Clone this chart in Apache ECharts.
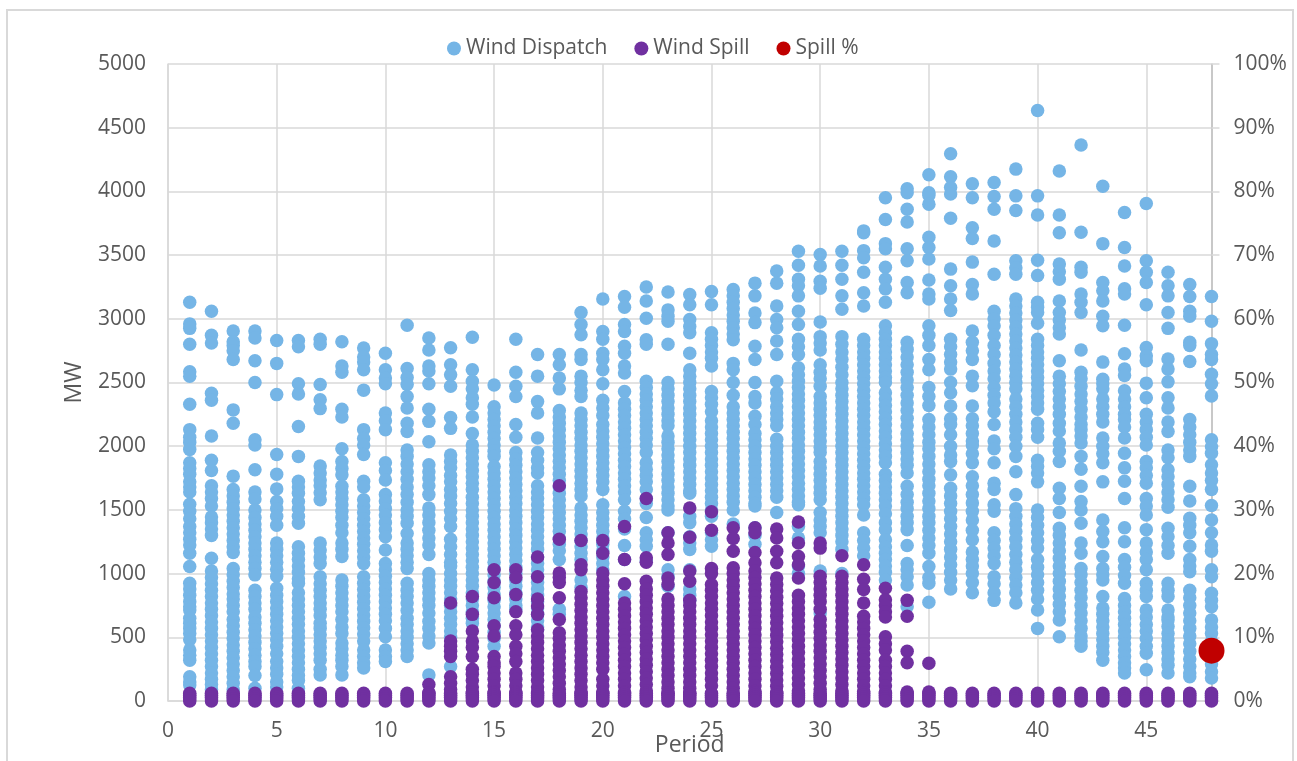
<!DOCTYPE html>
<html><head><meta charset="utf-8">
<script src="https://cdn.jsdelivr.net/npm/echarts@6/dist/echarts.min.js"></script>
<style>html,body{margin:0;padding:0;background:#fff;overflow:hidden}
#frame{position:absolute;left:6px;top:9px;width:1284px;height:800px;border:2px solid #d9d9d9}
#c{position:absolute;left:0;top:0;width:1297px;height:761px}</style></head>
<body><div id="frame"></div><div id="c"></div>
<script>
const d1=[3130,2960,2925,2800,2585,2550,2330,2130,2070,2030,1975,1870,1825,1780,1720,1680,1640,1545,1490,1430,1370,1320,1270,1225,1160,1055,925,880,830,780,740,715,650,610,570,530,480,400,360,320,190,150,125];
const d2=[3060,2870,2810,2415,2360,2080,1890,1810,1690,1640,1590,1530,1445,1400,1350,1300,1120,1020,970,920,870,820,770,720,670,620,570,520,470,420,370,320,270,220,170,130,90];
const d3=[2905,2820,2790,2750,2680,2285,2180,1765,1660,1610,1560,1510,1460,1410,1360,1310,1260,1210,1165,1040,990,940,890,840,800,750,700,640,590,540,490,440,390,340,290,240,190,140,90];
const d4=[2905,2850,2670,2500,2050,2010,1815,1640,1585,1500,1440,1390,1340,1290,1240,1190,1140,1090,1040,990,870,820,770,720,660,610,560,510,460,410,360,310,270,200,100];
const d5=[2830,2650,2405,1935,1780,1665,1565,1510,1450,1380,1240,1190,1140,1090,1035,980,885,830,780,730,680,630,580,530,480,430,370,310,260,210,150,110];
const d6=[2830,2780,2490,2410,2155,1920,1725,1680,1630,1565,1510,1450,1395,1210,1160,1110,1060,1010,960,925,850,800,750,700,650,600,550,500,450,400,350,300,250,200,160,100];
const d7=[2840,2800,2485,2365,2295,1845,1790,1735,1690,1635,1580,1240,1185,1130,1080,975,920,870,820,770,720,670,610,570,520,470,420,370,320,250,205];
const d8=[2820,2630,2580,2290,2230,1980,1880,1825,1775,1685,1640,1590,1540,1490,1440,1380,1320,1240,1190,1135,950,900,850,800,750,700,640,580,530,455,410,360,320,270,205];
const d9=[2770,2700,2660,2600,2440,2130,2060,2010,1935,1725,1680,1580,1530,1480,1430,1380,1330,1280,1230,1180,1130,1080,975,925,875,825,775,725,675,625,575,525,470,400,350,300,260];
const d10=[2730,2600,2535,2490,2260,2200,2130,1870,1810,1735,1620,1570,1510,1460,1400,1345,1290,1185,1080,1030,980,930,880,830,780,730,680,630,570,505,400,350,310];
const d11=[2950,2610,2540,2485,2390,2300,2180,2115,1970,1920,1860,1800,1740,1680,1620,1560,1500,1450,1395,1315,1240,1190,1140,1090,1040,925,870,820,770,710,650,600,550,500,450,400,350];
const d12=[2850,2755,2630,2590,2490,2290,2195,2035,1855,1800,1750,1690,1620,1515,1460,1400,1340,1280,1225,1150,1000,950,900,850,800,750,690,625,570,510,455,205];
const d13=[2772,2640,2560,2470,2225,2140,1930,1880,1830,1770,1720,1660,1610,1550,1490,1430,1370,1270,1210,1150,1090,1060,1000,950,900,850,800,750,700,650,600,550,500,270];
const d14=[2855,2600,2510,2450,2380,2330,2230,2100,2010,1960,1910,1860,1810,1760,1710,1660,1600,1550,1500,1450,1400,1350,1300,1250,1200,1150,1100,1050,1000,950,900,850,800,750,700,650,610];
const d15=[2480,2310,2260,2210,2160,2110,2060,2010,1960,1920,1840,1790,1740,1690,1640,1590,1540,1490,1440,1390,1340,1290,1240,1190,1140,1090,1040,990,940,890,840,790,740,690,640,590,540,490,430];
const d16=[2840,2580,2470,2390,2170,2070,1950,1900,1850,1800,1750,1700,1650,1600,1550,1500,1450,1400,1350,1300,1250,1200,1150,1100,1050,1000,950,900,850,800,750,720];
const d17=[2720,2550,2350,2260,2065,1950,1890,1830,1790,1690,1640,1590,1540,1490,1440,1390,1340,1290,1240,1190,1130,1080,1030,980,930,880,830,780,730,680,630,580,560];
const d18=[2720,2640,2535,2450,2280,2230,2180,2130,2080,2030,1980,1930,1880,1830,1780,1730,1680,1630,1580,1530,1480,1430,1380,1330,1280,1230,1180,1110,720,680];
const d19=[3050,2955,2875,2720,2680,2550,2500,2440,2390,2260,2210,2160,2110,2060,2010,1960,1910,1860,1810,1760,1710,1660,1610,1515,1460,1410,1360,1310,1260,1210,1160,1110,950,890];
const d20=[3155,2900,2840,2730,2680,2600,2490,2360,2300,2240,2170,2120,2070,2020,1970,1920,1870,1820,1770,1720,1660,1540,1480,1430,1380,1330,1280,1230,1180,1130,1080,1030];
const d21=[3175,3090,2955,2900,2785,2730,2630,2575,2430,2340,2290,2240,2190,2140,2090,2040,1990,1940,1890,1840,1790,1740,1690,1640,1580,1490,1430,1350,1220,1110,820];
const d22=[3250,3140,3005,2835,2800,2510,2460,2410,2360,2310,2260,2210,2160,2110,2060,2010,1950,1870,1820,1770,1720,1660,1590,1550,1440,1320,1265,1215,1100];
const d23=[3210,3070,3020,2980,2800,2500,2450,2400,2350,2300,2250,2200,2160,2080,2030,1980,1930,1880,1830,1780,1730,1680,1630,1580,1530,1500,1320,1030,980,900];
const d24=[3190,3110,2995,2940,2890,2730,2600,2550,2500,2450,2400,2350,2300,2250,2200,2150,2100,2050,2000,1950,1900,1850,1800,1750,1700,1650,1630,1450,1400,1290,1240,1190,1030,880,830,790];
const d25=[3215,3110,2890,2840,2790,2740,2690,2630,2430,2380,2330,2270,2200,2150,2100,2050,2000,1950,1900,1850,1800,1750,1700,1650,1600,1550,1500,1450,1320,1265,1215];
const d26=[3230,3180,3130,3080,3030,2980,2930,2880,2835,2650,2600,2500,2400,2310,2260,2210,2160,2110,2060,2010,1960,1910,1860,1810,1760,1710,1660,1610,1560,1500,1390];
const d27=[3280,3180,3045,2970,2785,2680,2500,2390,2340,2235,2170,2100,2050,2000,1950,1900,1850,1800,1750,1700,1650,1600,1550,1530,1360,1300,1230];
const d28=[3375,3280,3100,2995,2930,2825,2720,2510,2420,2370,2310,2260,2210,2160,2055,2000,1950,1900,1850,1800,1750,1700,1650,1600,1480];
const d29=[3530,3420,3310,3260,3180,3060,2955,2840,2780,2720,2615,2560,2510,2460,2410,2360,2310,2260,2210,2160,2110,2060,2010,1960,1910,1860,1810,1760,1710,1660,1610,1560,1540,1370,1280,1060,1000];
const d30=[3505,3415,3295,3240,2975,2860,2810,2755,2640,2580,2530,2470,2390,2340,2290,2240,2190,2140,2090,2040,1990,1950,1880,1830,1780,1730,1680,1630,1580,1480,1420,1370,1320,1020,690];
const d31=[3530,3420,3310,3180,3075,2860,2800,2740,2680,2620,2560,2500,2450,2400,2350,2300,2250,2200,2150,2100,2050,2000,1950,1900,1850,1800,1750,1700,1650,1600,1550,1500,1450,1400,1350,1300,1250,1190,1000];
const d32=[3690,3675,3535,3480,3365,3205,3100,2840,2790,2740,2690,2640,2590,2540,2490,2440,2390,2340,2290,2240,2190,2140,2090,2040,1990,1940,1890,1840,1790,1740,1690,1640,1590,1540,1460,1320,1260,1200,1140];
const d33=[3950,3780,3590,3550,3405,3310,3235,3130,2945,2890,2840,2790,2740,2690,2640,2590,2540,2500,2420,2370,2320,2270,2220,2170,2120,2070,2020,1970,1920,1870,1780,1730,1680,1630,1580,1530,1470,1400,1345,1265,1210,1160,1110,1060,1010,950];
const d34=[4020,3990,3860,3760,3550,3455,3285,3205,2815,2760,2700,2640,2580,2520,2460,2400,2340,2280,2220,2160,2100,2050,2000,1950,1900,1850,1790,1685,1620,1560,1510,1450,1400,1345,1220,1080,1030,975,910,740];
const d35=[4130,3990,3970,3900,3640,3560,3470,3305,3195,3155,2945,2870,2790,2680,2600,2460,2390,2320,2210,2150,2090,2030,1980,1920,1860,1800,1740,1690,1630,1570,1510,1450,1400,1340,1280,1220,1160,1055,970,925,775];
const d36=[4295,4115,4030,3980,3790,3390,3260,3155,3065,2840,2780,2720,2660,2605,2500,2420,2315,2215,2170,2090,2000,1930,1880,1775,1670,1610,1550,1490,1430,1370,1310,1250,1190,1130,1070,1010,950,880];
const d37=[4060,3950,3715,3630,3445,3270,3195,2905,2815,2750,2680,2550,2475,2315,2215,2160,2100,2040,2010,1940,1870,1760,1690,1620,1555,1490,1420,1340,1265,1170,1110,1060,1000,930,850];
const d38=[4070,3960,3860,3610,3350,3060,3000,2945,2870,2790,2720,2650,2590,2530,2460,2400,2340,2270,2170,2040,1980,1870,1710,1660,1540,1490,1320,1260,1200,1140,1080,975,920,850,790];
const d39=[4175,3965,3850,3455,3400,3350,3155,3100,3045,2990,2935,2880,2825,2770,2715,2660,2605,2550,2500,2450,2370,2310,2250,2190,2130,2070,2000,1920,1800,1620,1510,1450,1390,1330,1270,1210,1150,1090,1030,970,910,850,770];
const d40=[4635,3965,3815,3460,3340,3130,3090,3050,2965,2840,2790,2740,2690,2640,2590,2540,2490,2440,2390,2340,2290,2180,2130,2070,1890,1840,1790,1720,1500,1440,1380,1320,1260,1200,1110,1050,990,930,870,800,715,570];
const d41=[4160,3815,3675,3430,3370,3310,3140,3050,2990,2930,2880,2670,2550,2490,2430,2370,2310,2250,2180,2120,2025,1960,1880,1670,1590,1480,1355,1300,1240,1180,1120,1060,1000,940,880,820,760,700,635,505];
const d42=[4365,3680,3405,3365,3195,3130,3050,2755,2580,2530,2470,2410,2350,2290,2230,2170,2130,2080,2025,1920,1820,1685,1565,1500,1395,1240,1160,1040,990,930,870,810,750,690,630,570,510,470,430];
const d43=[4040,3590,3285,3220,3140,3020,2945,2660,2525,2490,2450,2370,2310,2250,2190,2065,2000,1940,1870,1720,1420,1330,1250,1135,1040,990,950,820,730,680,630,580,530,480,430,380,320];
const d44=[3835,3560,3415,3235,3195,2950,2725,2605,2555,2435,2370,2310,2250,2210,2150,2065,1945,1830,1725,1590,1360,1250,1110,1050,985,925,805,750,700,650,600,550,500,450,400,350,300,260,220];
const d45=[3905,3455,3365,3285,3110,2775,2710,2670,2495,2380,2250,2190,2130,2070,2010,1880,1830,1770,1710,1590,1530,1460,1345,1240,1170,1110,1030,925,870,820,715,660,600,550,490,430,375,245];
const d46=[3365,3260,3180,3050,2925,2685,2605,2505,2380,2300,2190,2115,1970,1910,1815,1760,1700,1640,1580,1520,1355,1290,1220,1160,925,870,820,715,660,635,585,530,480,430,380,330,280,220];
const d47=[3270,3175,3060,3020,2815,2790,2665,2210,2150,2090,2030,1970,1920,1685,1570,1435,1380,1320,1215,1110,1060,1015,870,810,750,690,630,570,510,450,390,330,270,220,190];
const d48=[3175,2980,2805,2720,2680,2565,2490,2395,2050,1995,1945,1855,1790,1730,1660,1535,1420,1320,1225,1175,1030,975,845,790,740,635,580,530,470,400,340,290,230,180];
const dispatchColumns=[d1,d2,d3,d4,d5,d6,d7,d8,d9,d10,d11,d12,d13,d14,d15,d16,d17,d18,d19,d20,d21,d22,d23,d24,d25,d26,d27,d28,d29,d30,d31,d32,d33,d34,d35,d36,d37,d38,d39,d40,d41,d42,d43,d44,d45,d46,d47,d48];

const spillBase=[60,45,30,15,0];
const s12=[130,65];
const s13=[770,470,430,390,350,190,140,90];
const s14=[820,680,550,470,420,350,250,210,160,110,70];
const s15=[1030,930,810,590,510,350,300,270,220,170,120,70];
const s16=[1030,970,835,700,590,520,430,370,310,220,170,120,70];
const s17=[1130,975,800,745,680,560,510,460,410,360,310,260,210,160,110,70];
const s18=[1690,1270,1005,970,930,810,640,535,490,440,390,340,290,240,190,140,90];
const s19=[1260,1070,1030,860,810,760,710,660,610,560,510,460,410,360,310,260,210,160,110,70];
const s20=[1260,1160,1005,950,900,850,800,750,700,650,600,550,500,450,400,350,300,250,170,120,70];
const s21=[1370,1110,920,770,720,670,620,570,520,470,420,370,320,270,220,170,120,70];
const s22=[1590,1125,1090,940,880,830,780,730,680,630,580,530,480,430,380,330,280,230,180,130,80];
const s23=[1320,1240,1150,965,915,800,750,700,650,600,550,500,450,400,350,300,250,200,150,100,60];
const s24=[1515,1285,1020,940,790,750,700,650,600,550,500,450,400,350,300,250,200,150,100,60];
const s25=[1485,1340,1040,1000,915,870,820,770,720,670,620,570,520,470,420,370,320,270,220,170,120];
const s26=[1360,1275,1175,1045,1000,950,900,850,800,750,700,650,600,550,500,450,400,350,300,250,200,150,100];
const s27=[1360,1320,1165,1085,1020,970,920,870,820,770,720,670,620,570,520,470,420,370,320,270,220,170,120,75];
const s28=[1350,1280,1175,1085,965,915,865,815,765,715,665,615,565,515,465,415,365,315,265,215,165,115,70];
const s29=[1405,1240,1135,1070,965,830,780,730,680,630,580,530,480,430,380,330,280,230,180,130,80];
const s30=[1240,1200,980,930,880,830,780,720,640,590,540,490,440,390,340,290,240,190,140,90];
const s31=[1140,980,930,880,830,780,730,680,630,580,530,480,430,380,330,280,230,180,130,80];
const s32=[1070,955,875,770,665,620,570,520,470,420,370,320,270,220,170,120,75];
const s33=[885,795,750,700,660,505,450,400,320,270,220,170,120,70];
const s34=[790,665,390,300,70];
const s35=[296,70];
const spillColumns={12:s12,13:s13,14:s14,15:s15,16:s16,17:s17,18:s18,19:s19,20:s20,21:s21,22:s22,23:s23,24:s24,25:s25,26:s26,27:s27,28:s28,29:s29,30:s30,31:s31,32:s32,33:s33,34:s34,35:s35};
const spillPercent=[[48,0.079]];

const dispatch=[];dispatchColumns.forEach((c,i)=>c.forEach(v=>dispatch.push([i+1,v])));
const spill=[];for(let p=1;p<=48;p++){(spillColumns[p]||[]).forEach(v=>spill.push([p,v]));spillBase.forEach(v=>spill.push([p,v]));}

const FONT='"Open Sans",sans-serif',TXT='#595959',GRID='#d9d9d9';
const chart=echarts.init(document.getElementById('c'),null,{renderer:'canvas'});
chart.setOption({
 animation:false,backgroundColor:'transparent',textStyle:{fontFamily:FONT,color:TXT},
 legend:{top:33,left:442,itemWidth:14,itemHeight:14,itemGap:27,icon:'circle',
  textStyle:{fontFamily:FONT,fontSize:21,color:TXT},
  data:['Wind Dispatch','Wind Spill','Spill %']},
 grid:{left:168,right:85.5,top:64,bottom:60,containLabel:false,outerBoundsMode:'none'},
 xAxis:{type:'value',min:0,max:48,interval:5,name:'Period',nameLocation:'middle',nameGap:33,nameMoveOverlap:false,
  nameTextStyle:{fontFamily:FONT,fontSize:23,color:TXT},
  axisLine:{show:true,onZero:false,lineStyle:{color:GRID,width:1.5}},axisTick:{show:false},
  axisLabel:{fontFamily:FONT,fontSize:21,color:TXT,margin:20,showMaxLabel:false,hideOverlap:false,formatter:v=>v%5===0?String(v):''},
  splitLine:{show:true,lineStyle:{color:GRID,width:1.5}}},
 yAxis:[
  {type:'value',min:0,max:5000,interval:500,name:'MW',nameLocation:'middle',nameGap:82,nameMoveOverlap:false,
   nameTextStyle:{fontFamily:FONT,fontSize:23,color:TXT},
   axisLine:{show:true,lineStyle:{color:GRID,width:1.5}},axisTick:{show:false},
   axisLabel:{fontFamily:FONT,fontSize:21,color:TXT,margin:22,padding:[4,0,0,0],formatter:v=>String(v)},
   splitLine:{show:true,lineStyle:{color:GRID,width:1.5}}},
  {type:'value',min:0,max:1,interval:0.1,position:'right',
   axisLine:{show:true,lineStyle:{color:'#bfbfbf',width:1.5}},
   axisTick:{show:true,length:8,lineStyle:{color:GRID,width:1.5}},
   axisLabel:{fontFamily:FONT,fontSize:21,color:TXT,margin:22,padding:[4,0,0,0],formatter:v=>Math.round(v*100)+'%'},
   splitLine:{show:false}}],
 series:[
  {name:'Wind Dispatch',type:'scatter',symbolSize:13.5,data:dispatch,itemStyle:{color:'#75B5E6',opacity:1},clip:false,z:2},
  {name:'Wind Spill',type:'scatter',symbolSize:13.5,data:spill,itemStyle:{color:'#7030A0',opacity:1},clip:false,z:3},
  {name:'Spill %',type:'scatter',yAxisIndex:1,symbolSize:26,data:spillPercent,itemStyle:{color:'#C00000',opacity:1},clip:false,z:4}]
});
</script></body></html>
